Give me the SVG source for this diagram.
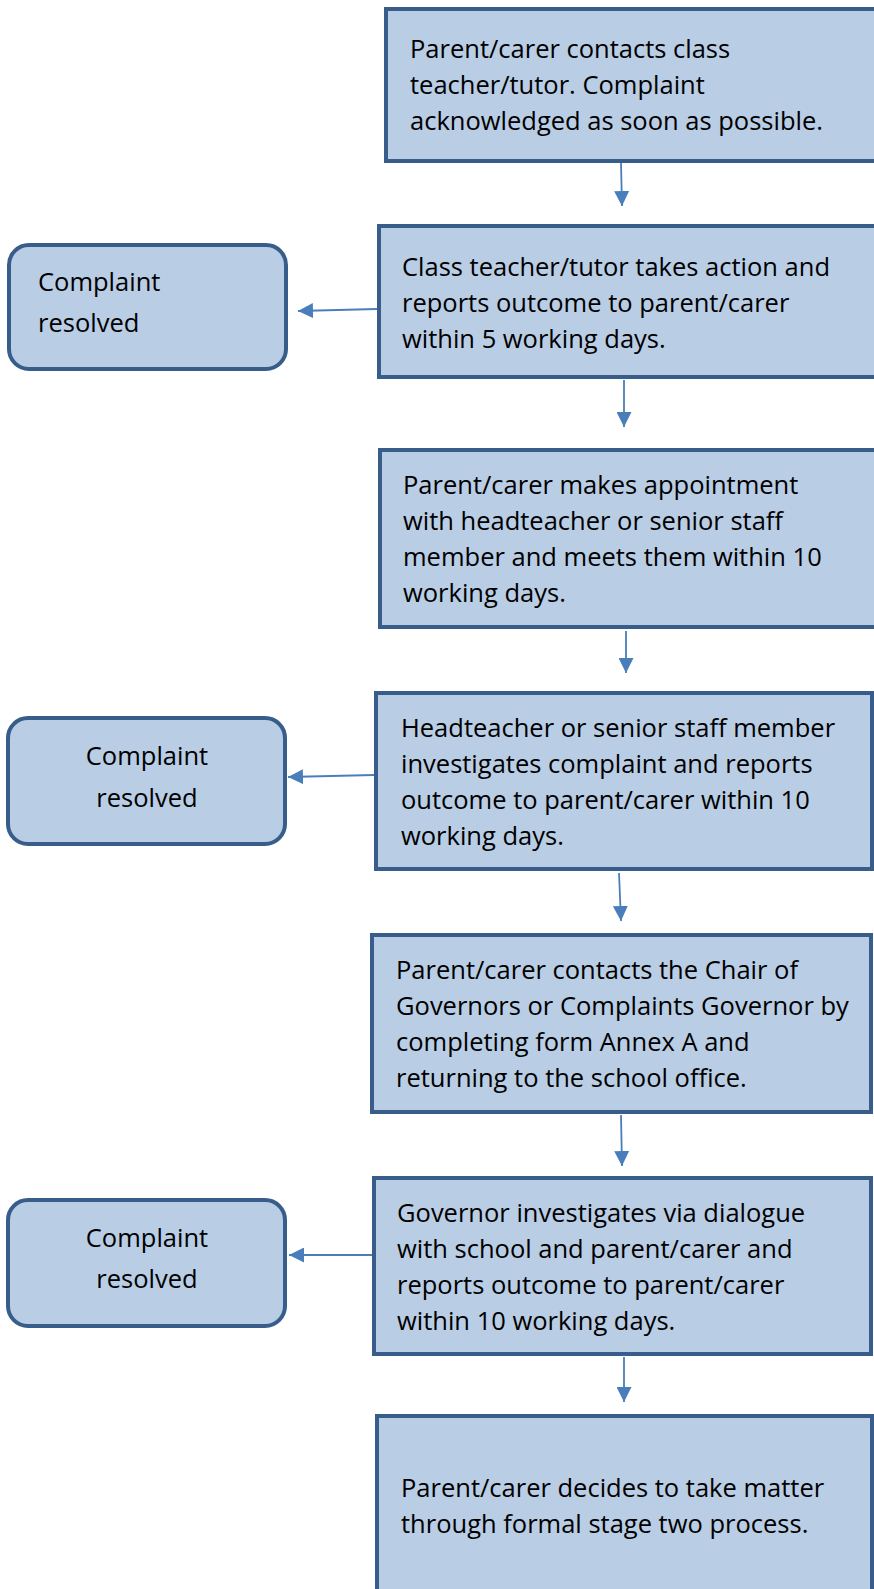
<svg xmlns="http://www.w3.org/2000/svg" width="874" height="1589" viewBox="0 0 874 1589">
<style>
.box{fill:#B9CDE5;stroke:#385D8A;stroke-width:4}
.t{font-family:"Open Sans","Noto Sans",sans-serif;font-size:25.5px;fill:#000}
.c{text-anchor:middle}
.conn{stroke:#4A7EBB;stroke-width:1.8;fill:none;marker-end:url(#ah)}
</style>
<defs>
<marker id="ah" viewBox="0 0 10 10" refX="10" refY="5" markerUnits="userSpaceOnUse" markerWidth="15" markerHeight="15" orient="auto">
<path d="M0,0 L10,5 L0,10 Z" fill="#4A7EBB"/>
</marker>
</defs>
<rect width="874" height="1589" fill="#fff"/>
<g id="connectors">
<line class="conn" x1="621" y1="163" x2="622" y2="206"/>
<line class="conn" x1="377" y1="309" x2="298" y2="311"/>
<line class="conn" x1="624" y1="380" x2="624" y2="427"/>
<line class="conn" x1="626" y1="631" x2="626" y2="673"/>
<line class="conn" x1="374" y1="775" x2="288" y2="777"/>
<line class="conn" x1="619" y1="873" x2="621" y2="921"/>
<line class="conn" x1="621" y1="1115" x2="622" y2="1166"/>
<line class="conn" x1="372" y1="1255" x2="289" y2="1255"/>
<line class="conn" x1="624" y1="1357" x2="624" y2="1402"/>
</g>
<g id="n1">
<rect class="box" x="386" y="9" width="500" height="152"/>
<text class="t" x="410" y="58">Parent/carer contacts class</text>
<text class="t" x="410" y="94">teacher/tutor. Complaint</text>
<text class="t" x="410" y="130">acknowledged as soon as possible.</text>
</g>
<g id="n2">
<rect class="box" x="379" y="226" width="510" height="151"/>
<text class="t" x="402" y="276">Class teacher/tutor takes action and</text>
<text class="t" x="402" y="312">reports outcome to parent/carer</text>
<text class="t" x="402" y="348">within 5 working days.</text>
</g>
<g id="r1">
<rect class="box" x="9" y="245" width="277" height="124" rx="20"/>
<text class="t" x="38" y="291">Complaint</text>
<text class="t" x="38" y="332">resolved</text>
</g>
<g id="n3">
<rect class="box" x="380" y="450" width="510" height="177"/>
<text class="t" x="403" y="494">Parent/carer makes appointment</text>
<text class="t" x="403" y="530">with headteacher or senior staff</text>
<text class="t" x="403" y="566">member and meets them within 10</text>
<text class="t" x="403" y="602">working days.</text>
</g>
<g id="n4">
<rect class="box" x="376" y="693" width="496" height="176"/>
<text class="t" x="401" y="737">Headteacher or senior staff member</text>
<text class="t" x="401" y="773">investigates complaint and reports</text>
<text class="t" x="401" y="809">outcome to parent/carer within 10</text>
<text class="t" x="401" y="845">working days.</text>
</g>
<g id="r2">
<rect class="box" x="8" y="718" width="277" height="126" rx="20"/>
<text class="t c" x="147" y="765">Complaint</text>
<text class="t c" x="147" y="807">resolved</text>
</g>
<g id="n5">
<rect class="box" x="372" y="935" width="499" height="177"/>
<text class="t" x="396" y="979">Parent/carer contacts the Chair of</text>
<text class="t" x="396" y="1015">Governors or Complaints Governor by</text>
<text class="t" x="396" y="1051">completing form Annex A and</text>
<text class="t" x="396" y="1087">returning to the school office.</text>
</g>
<g id="n6">
<rect class="box" x="374" y="1178" width="497" height="176"/>
<text class="t" x="397" y="1222">Governor investigates via dialogue</text>
<text class="t" x="397" y="1258">with school and parent/carer and</text>
<text class="t" x="397" y="1294">reports outcome to parent/carer</text>
<text class="t" x="397" y="1330">within 10 working days.</text>
</g>
<g id="r3">
<rect class="box" x="8" y="1200" width="277" height="126" rx="20"/>
<text class="t c" x="147" y="1247">Complaint</text>
<text class="t c" x="147" y="1288">resolved</text>
</g>
<g id="n7">
<rect class="box" x="377" y="1416" width="495" height="190"/>
<text class="t" x="401" y="1497">Parent/carer decides to take matter</text>
<text class="t" x="401" y="1533">through formal stage two process.</text>
</g>
</svg>
